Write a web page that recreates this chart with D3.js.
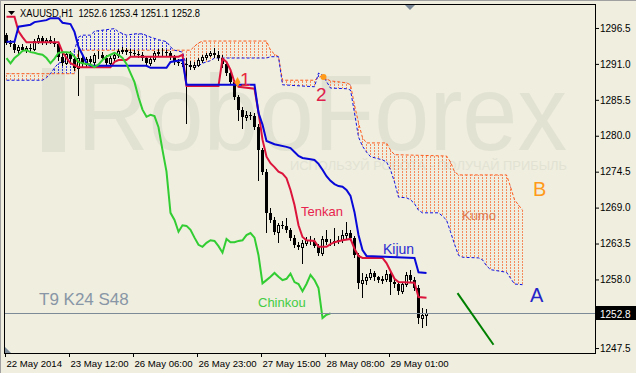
<!DOCTYPE html>
<meta charset="utf-8">
<style type="text/css">
body {
    margin: 0;
    background: #efeedf;
}

svg {
    display: block;
    font-family: 'Liberation Sans', Arial, sans-serif;
}
</style>

<body>
    <script src="https://d3js.org/d3.v7.min.js"></script>
    <script>
    // XAUUSD H1 with Ichimoku (9 / 24 / 48), one bar = 4px

    var opens = [1295.4, 1294.2, 1294.0, 1293.1, 1293.6, 1293.2, 1293.5, 1293.3, 1294.5, 1294.9,
        1294.3, 1294.7, 1294.4, 1294.0, 1292.0, 1291.2, 1292.5, 1291.8, 1290.4, 1291.9,
        1291.0, 1291.7, 1291.3, 1292.3, 1292.4, 1291.9, 1291.1, 1291.9, 1292.4, 1293.0,
        1293.1, 1292.8, 1292.7, 1292.5, 1292.4, 1291.9, 1291.1, 1291.8, 1292.7, 1292.8,
        1292.8, 1292.7, 1292.1, 1291.3, 1291.1, 1291.0, 1290.9, 1290.5, 1290.9, 1291.6,
        1292.1, 1292.4, 1292.7, 1292.4, 1291.9, 1291.0, 1289.6, 1288.2, 1285.9, 1284.0,
        1282.9, 1283.2, 1283.0, 1281.3, 1277.8, 1274.5, 1268.2, 1267.1, 1265.3, 1266.3,
        1266.2, 1265.6, 1264.4, 1263.3, 1263.0, 1263.6, 1264.0, 1263.9, 1263.1, 1262.1,
        1264.2, 1263.7, 1263.7, 1263.9, 1264.0, 1264.8, 1265.1, 1264.4, 1261.7, 1257.4,
        1257.9, 1258.4, 1259.0, 1258.4, 1257.9, 1258.1, 1258.9, 1257.6, 1257.3, 1256.2,
        1257.3, 1258.7, 1257.9, 1256.7, 1252.1, 1252.6]

    var highs = [1295.7, 1294.6, 1294.3, 1293.9, 1294.0, 1293.8, 1294.1, 1294.8, 1295.4, 1295.3,
        1295.0, 1295.2, 1294.9, 1294.3, 1292.6, 1292.8, 1293.0, 1292.3, 1293.1, 1292.4,
        1292.0, 1292.2, 1292.6, 1293.0, 1292.8, 1292.3, 1292.2, 1292.7, 1293.3, 1293.6,
        1293.5, 1293.3, 1293.2, 1292.9, 1292.8, 1292.2, 1292.1, 1293.0, 1293.3, 1293.4,
        1293.2, 1293.0, 1292.4, 1291.7, 1291.5, 1291.9, 1291.5, 1291.3, 1291.9, 1292.4,
        1292.7, 1293.0, 1293.4, 1292.9, 1292.3, 1291.4, 1290.0, 1288.5, 1286.3, 1284.4,
        1283.8, 1283.7, 1283.5, 1281.8, 1278.2, 1274.9, 1268.9, 1267.6, 1266.6, 1266.9,
        1267.4, 1265.9, 1264.8, 1263.7, 1264.0, 1264.5, 1264.6, 1264.3, 1263.5, 1264.6,
        1265.6, 1264.2, 1265.9, 1264.6, 1265.6, 1266.8, 1265.5, 1264.7, 1262.0, 1259.0,
        1258.8, 1259.6, 1259.3, 1258.6, 1258.6, 1259.5, 1259.2, 1258.2, 1257.7, 1257.6,
        1259.1, 1259.4, 1258.3, 1257.1, 1253.6, 1253.4]

    var lows = [1294.0, 1293.7, 1292.8, 1292.7, 1292.9, 1292.8, 1293.0, 1293.1, 1294.2, 1294.0,
        1294.0, 1294.2, 1293.7, 1291.6, 1290.9, 1291.0, 1291.5, 1290.0, 1286.2, 1290.6,
        1290.6, 1290.9, 1291.0, 1291.9, 1291.6, 1290.8, 1290.9, 1291.6, 1292.1, 1292.6,
        1292.5, 1292.3, 1292.2, 1292.0, 1291.6, 1290.8, 1290.9, 1291.5, 1292.4, 1292.3,
        1292.3, 1291.8, 1291.0, 1290.8, 1290.7, 1282.0, 1290.2, 1290.2, 1290.7, 1291.3,
        1291.8, 1292.2, 1292.1, 1291.6, 1290.6, 1289.3, 1287.9, 1285.6, 1282.4, 1281.2,
        1282.4, 1282.6, 1281.0, 1273.2, 1274.1, 1265.3, 1266.8, 1264.9, 1263.7, 1265.9,
        1265.3, 1264.1, 1263.0, 1262.7, 1260.5, 1263.3, 1263.5, 1262.9, 1261.8, 1261.8,
        1263.4, 1263.3, 1263.3, 1263.6, 1263.8, 1264.4, 1264.0, 1261.4, 1256.7, 1255.3,
        1257.3, 1258.1, 1257.9, 1257.6, 1257.4, 1257.8, 1255.8, 1256.9, 1255.7, 1255.9,
        1257.0, 1257.6, 1256.4, 1251.3, 1250.7, 1251.1]

    var closes = [1294.2, 1294.0, 1293.1, 1293.6, 1293.2, 1293.5, 1293.3, 1294.5, 1294.9, 1294.3,
        1294.7, 1294.4, 1294.0, 1292.0, 1291.2, 1292.5, 1291.8, 1290.4, 1291.9, 1291.0,
        1291.7, 1291.3, 1292.3, 1292.4, 1291.9, 1291.1, 1291.9, 1292.4, 1293.0, 1293.1,
        1292.8, 1292.7, 1292.5, 1292.4, 1291.9, 1291.1, 1291.8, 1292.7, 1292.8, 1292.8,
        1292.7, 1292.1, 1291.3, 1291.1, 1291.0, 1290.9, 1290.5, 1290.9, 1291.6, 1292.1,
        1292.4, 1292.7, 1292.4, 1291.9, 1291.0, 1289.6, 1288.2, 1285.9, 1284.0, 1282.9,
        1283.2, 1283.0, 1281.3, 1277.8, 1274.5, 1268.2, 1267.1, 1265.3, 1266.3, 1266.2,
        1265.6, 1264.4, 1263.3, 1263.0, 1263.6, 1264.0, 1263.9, 1263.1, 1262.1, 1264.2,
        1263.7, 1263.7, 1263.9, 1264.0, 1264.8, 1265.1, 1264.4, 1261.7, 1257.4, 1257.9,
        1258.4, 1259.0, 1258.4, 1257.9, 1258.1, 1258.9, 1257.6, 1257.3, 1256.2, 1257.3,
        1258.7, 1257.9, 1256.7, 1252.1, 1252.6, 1252.8]

    // [bar, price] break points
    var tenkan = [[0, 1298.2], [2, 1298.2], [3, 1296.0], [4, 1295.1], [5, 1294.3], [13, 1294.3],
        [14, 1292.8], [15, 1291.9], [16, 1291.1], [18, 1290.5], [26, 1290.5], [27, 1291.3],
        [28, 1291.6], [30, 1291.6], [31, 1292.1], [43, 1292.1], [44, 1292.4], [45, 1287.6],
        [53, 1287.6], [54, 1291.8], [55, 1291.3], [56, 1290.1], [57, 1288.2], [58, 1287.5],
        [62, 1287.2], [63, 1283.6], [64, 1279.4], [65, 1276.8], [66, 1275.8], [67, 1275.2],
        [68, 1274.5], [69, 1274.2], [70, 1273.5], [71, 1271.7], [72, 1269.4], [73, 1266.3],
        [74, 1264.5], [75, 1264.0], [77, 1263.9], [78, 1263.0], [80, 1263.0], [81, 1263.4],
        [82, 1263.7], [84, 1264.0], [86, 1264.2], [87, 1262.7], [88, 1261.6], [89, 1261.3],
        [94, 1261.3], [95, 1260.5], [96, 1259.3], [97, 1258.1], [98, 1257.6], [102, 1257.5],
        [103, 1255.3], [105, 1255.2]]

    var kijun = [[0, 1294.4], [2, 1294.4], [3, 1296.7], [6, 1297.0], [7, 1297.4], [10, 1297.7],
        [11, 1298.0], [13, 1298.0], [14, 1297.3], [16, 1297.1], [17, 1295.9], [18, 1293.6],
        [19, 1292.4], [20, 1291.1], [21, 1290.7], [35, 1290.7], [36, 1290.4], [40, 1290.4],
        [41, 1291.3], [44, 1291.6], [45, 1287.8], [62, 1287.8], [63, 1283.5], [64, 1281.7],
        [65, 1279.2], [67, 1278.7], [70, 1278.3], [71, 1278.1], [72, 1277.5], [73, 1276.9],
        [74, 1276.6], [76, 1276.4], [77, 1276.3], [78, 1275.7], [79, 1274.8], [80, 1273.8],
        [81, 1273.1], [82, 1272.6], [83, 1272.3], [84, 1272.2], [85, 1271.7], [86, 1270.8],
        [87, 1268.3], [88, 1264.8], [89, 1262.5], [90, 1261.6], [102, 1261.3], [103, 1259.1],
        [105, 1259.0]]

    var spanA = [[0, 1288.5], [9, 1288.5], [10, 1288.9], [11, 1289.5], [12, 1290.4], [13, 1291.1],
        [14, 1291.3], [15, 1291.5], [16, 1291.9], [17, 1293.1], [18, 1295.1], [19, 1295.4],
        [21, 1295.4], [22, 1296.0], [27, 1296.4], [28, 1295.9], [30, 1295.4], [32, 1295.6],
        [34, 1295.6], [36, 1295.1], [38, 1294.7], [40, 1294.4], [41, 1293.6], [42, 1293.1],
        [44, 1292.8], [45, 1290.7], [48, 1290.7], [49, 1291.1], [51, 1291.5], [52, 1291.9],
        [65, 1291.9], [66, 1292.1], [68, 1292.1], [69, 1287.8], [77, 1287.5], [78, 1289.6],
        [79, 1289.3], [81, 1287.3], [85, 1287.2], [86, 1287.0], [87, 1283.5], [88, 1279.8],
        [89, 1278.4], [90, 1277.5], [91, 1276.8], [94, 1276.3], [95, 1276.0], [96, 1274.8],
        [97, 1272.9], [98, 1270.6], [100, 1270.5], [101, 1270.2], [102, 1269.6], [103, 1268.6],
        [104, 1268.2], [108, 1268.2], [109, 1267.7], [110, 1267.1], [111, 1265.3], [112, 1263.4],
        [113, 1261.7], [114, 1261.4], [118, 1261.3], [119, 1261.0], [120, 1260.1], [121, 1259.5],
        [125, 1259.1], [126, 1258.2], [127, 1257.3], [129, 1257.2]]

    var spanB = [[0, 1289.5], [17, 1289.5], [18, 1293.1], [46, 1293.1], [47, 1293.7], [48, 1294.2],
        [49, 1294.5], [65, 1294.5], [66, 1293.1], [67, 1292.5], [68, 1292.1], [69, 1288.5],
        [77, 1288.5], [78, 1288.9], [79, 1289.2], [80, 1288.7], [81, 1288.4], [85, 1288.1],
        [86, 1287.8], [87, 1284.7], [88, 1282.0], [89, 1279.7], [90, 1278.9], [95, 1278.9],
        [96, 1277.8], [97, 1277.1], [110, 1276.9], [111, 1276.0], [112, 1274.5], [113, 1274.0],
        [125, 1274.0], [126, 1272.2], [127, 1270.2], [128, 1269.4], [129, 1268.6]]

    var chinkouShift = 24
    var trendline = [[112.75, 1255.9], [121.75, 1248.0]]
    var signal1 = [57.75, 1288.2]
    var signal2 = [79.25, 1289.0]

    var timeTicks = [0, 16, 32, 48, 64, 80, 96]
    var timeLabels = ['22 May 2014', '23 May 12:00', '26 May 06:00', '26 May 23:00',
        '27 May 15:00', '28 May 08:00', '29 May 01:00']
    var priceTicks = [1296.5, 1291.0, 1285.5, 1280.0, 1274.5, 1269.0, 1263.5, 1258.0, 1247.5]
    var lastPrice = 1252.8
    var header = 'XAUUSD,H1  1252.6 1253.4 1251.1 1252.8'

    var width = 636
    var height = 373
    var plotLeft = 4, plotRight = 595, plotTop = 4, plotBottom = 353
    var bg = '#efeedf'
    var axisFont = "'Liberation Sans', Arial, sans-serif"

    var x = d3.scaleLinear().domain([0, 1]).range([6, 10])
    var y = d3.scaleLinear().domain([1246.74, 1300.17]).range([plotBottom, plotTop])

    var svg = d3.select('body').append('svg')
        .attr('width', width)
        .attr('height', height)

    svg.append('rect').attr('width', width).attr('height', height).attr('fill', bg)

    var defs = svg.append('defs')
    defs.append('clipPath').attr('id', 'plot')
        .append('rect').attr('x', plotLeft + 1).attr('y', plotTop + 1)
        .attr('width', plotRight - plotLeft - 1).attr('height', plotBottom - plotTop - 1)

    // dotted vertical hatch, one line per bar
    function hatch(id, color) {
        var p = defs.append('pattern').attr('id', id)
            .attr('patternUnits', 'userSpaceOnUse')
            .attr('width', 4).attr('height', 3)
        p.append('rect').attr('x', 2).attr('y', 0).attr('width', 1).attr('height', 2)
            .attr('fill', color)
    }
    hatch('hatchA', '#3636e2')
    hatch('hatchB', '#f58a5c')

    var plot = svg.append('g').attr('clip-path', 'url(#plot)')

    // watermark
    var wm = '#e2e2d3'
    plot.append('rect').attr('x', 42).attr('y', 68).attr('width', 23).attr('height', 84).attr('fill', wm)
    plot.append('text').attr('x', 77).attr('y', 150)
        .attr('font-size', 108).attr('fill', wm)
        .attr('textLength', 490).attr('lengthAdjust', 'spacingAndGlyphs')
        .text('RoboForex')
    plot.append('text').attr('x', 290).attr('y', 170)
        .attr('font-size', 13).attr('fill', wm)
        .attr('textLength', 277).attr('lengthAdjust', 'spacingAndGlyphs')
        .text('ИСПОЛЬЗУЙ РОБОТА - ПОЛУЧАЙ ПРИБЫЛЬ')

    // kumo
    function pts(arr) {
        return arr.map(d => [x(d[0]) + 0.5, y(d[1])])
    }
    var aPts = pts(spanA)
    var bPts = pts(spanB)
    aPts[0][0] -= 1; bPts[0][0] -= 1
    aPts[aPts.length - 1][0] += 1; bPts[bPts.length - 1][0] += 1
    var between = 'M' + aPts.concat(bPts.slice().reverse()).join('L') + 'Z'

    function above(p, id) {
        var path = 'M' + p.concat([[p[p.length - 1][0], 0], [p[0][0], 0]]).join('L') + 'Z'
        defs.append('clipPath').attr('id', id).append('path').attr('d', path)
    }
    above(aPts, 'aboveA')
    above(bPts, 'aboveB')

    plot.append('path').attr('d', between).attr('fill', 'url(#hatchB)').attr('clip-path', 'url(#aboveA)')
    plot.append('path').attr('d', between).attr('fill', 'url(#hatchA)').attr('clip-path', 'url(#aboveB)')

    var line = d3.line().x(d => x(d[0]) + 0.5).y(d => y(d[1]))

    plot.append('path').datum(spanB).attr('d', line)
        .attr('fill', 'none').attr('stroke', '#ff5a1a').attr('stroke-dasharray', '3,2')
    plot.append('path').datum(spanA).attr('d', line)
        .attr('fill', 'none').attr('stroke', '#1010e0').attr('stroke-dasharray', '3,2')

    // candles
    var bars = d3.range(closes.length)
    var candles = plot.append('g')

    candles.selectAll('.wick')
        .data(bars)
        .enter()
        .append('line')
        .attr('class', 'wick')
        .attr('x1', i => x(i) + 0.5).attr('x2', i => x(i) + 0.5)
        .attr('y1', i => Math.round(y(highs[i])))
        .attr('y2', i => Math.round(y(lows[i])) + 1)
        .attr('stroke', '#000')

    candles.selectAll('.bear')
        .data(bars.filter(i => closes[i] < opens[i]))
        .enter()
        .append('rect')
        .attr('class', 'bear')
        .attr('x', i => x(i) - 1)
        .attr('y', i => Math.round(y(opens[i])))
        .attr('width', 3)
        .attr('height', i => Math.max(1, Math.round(y(closes[i])) - Math.round(y(opens[i]))))
        .attr('fill', '#000')

    candles.selectAll('.bull')
        .data(bars.filter(i => closes[i] >= opens[i]))
        .enter()
        .append('rect')
        .attr('class', 'bull')
        .attr('x', i => x(i) - 0.5)
        .attr('y', i => Math.round(y(closes[i])) + 0.5)
        .attr('width', 2)
        .attr('height', i => Math.round(y(opens[i])) - Math.round(y(closes[i])))
        .attr('fill', bg)
        .attr('stroke', '#000')

    // indicator lines
    plot.append('path').datum(tenkan).attr('d', line)
        .attr('fill', 'none').attr('stroke', '#dc143c').attr('stroke-width', 2)
    plot.append('path').datum(kijun).attr('d', line)
        .attr('fill', 'none').attr('stroke', '#0808d8').attr('stroke-width', 2)

    var chinkou = closes.slice(chinkouShift).map((c, k) => [k, c])
    plot.append('path').datum(chinkou).attr('d', line)
        .attr('fill', 'none').attr('stroke', '#32cd32').attr('stroke-width', 2)

    // bid line
    var bidY = Math.round(y(lastPrice)) + 0.5
    plot.append('line')
        .attr('x1', plotLeft).attr('x2', plotRight).attr('y1', bidY).attr('y2', bidY)
        .attr('stroke', '#7c8a98')

    // trend line and signals
    plot.append('path').datum(trendline).attr('d', line)
        .attr('fill', 'none').attr('stroke', '#008000').attr('stroke-width', 2)

    plot.append('path')
        .attr('d', d3.symbol(d3.symbolDiamond, 30)())
        .attr('transform', 'translate(' + (x(signal1[0]) + 0.5) + ',' + y(signal1[1]) + ')')
        .attr('fill', '#ff9a1a')
    plot.append('circle')
        .attr('cx', x(signal2[0]) + 0.5).attr('cy', y(signal2[1])).attr('r', 3)
        .attr('fill', '#ff9a1a')

    // labels
    function label(tx, ty, size, color, text) {
        plot.append('text').attr('x', tx).attr('y', ty)
            .attr('font-size', size).attr('fill', color).text(text)
    }
    label(240, 86, 19, '#e8283c', '1')
    label(316, 101, 19, '#e0204a', '2')
    label(301, 216, 13, '#e8244e', 'Tenkan')
    label(383, 254, 14, '#2a2ad0', 'Kijun')
    label(258, 307, 13, '#44cc44', 'Chinkou')
    label(462, 220, 13, '#e07a50', 'Kumo')
    label(533, 196, 20, '#ff9a1a', 'B')
    label(530, 302, 20, '#2424c8', 'A')
    label(39, 305, 17, '#8896a6', 'T9 K24 S48')

    // frame
    svg.append('rect')
        .attr('x', plotLeft + 0.5).attr('y', plotTop + 0.5)
        .attr('width', plotRight - plotLeft).attr('height', plotBottom - plotTop)
        .attr('fill', 'none').attr('stroke', '#000')
    svg.append('line').attr('x1', 0).attr('x2', width).attr('y1', 0.5).attr('y2', 0.5).attr('stroke', '#a0a0a0')
    svg.append('line').attr('x1', 0.5).attr('x2', 0.5).attr('y1', 0).attr('y2', height).attr('stroke', '#a0a0a0')

    svg.append('path').attr('d', 'M405,5L415,5L410,10Z').attr('fill', '#7a8898')
    svg.append('path').attr('d', 'M5,347L5,353L11,353Z').attr('fill', '#7a8898')

    // header
    svg.append('path').attr('d', 'M8,11L15,11L11.5,15Z').attr('fill', '#000')
    svg.append('text').attr('x', 20).attr('y', 17)
        .attr('font-size', 10).attr('fill', '#000')
        .style('white-space', 'pre')
        .attr('textLength', 180).attr('lengthAdjust', 'spacingAndGlyphs')
        .text(header)

    // axes
    var yAxis = d3.axisRight(y)
        .tickValues(priceTicks)
        .tickSize(4)
        .tickPadding(1)
        .tickFormat(d3.format('.1f'))
    svg.append('g')
        .attr('transform', 'translate(' + plotRight + ',0)')
        .call(yAxis)
        .call(g => g.select('.domain').remove())
        .call(g => g.selectAll('text').attr('font-size', 10).attr('font-family', axisFont))

    var xAxis = d3.axisBottom(x)
        .tickValues(timeTicks)
        .tickSize(4)
        .tickFormat((d, k) => timeLabels[k])
    svg.append('g')
        .attr('transform', 'translate(-1,' + plotBottom + ')')
        .call(xAxis)
        .call(g => g.select('.domain').remove())
        .call(g => g.selectAll('text').attr('text-anchor', 'start').attr('x', 1)
            .attr('font-size', 9.6).attr('font-family', axisFont))

    // last price tag
    svg.append('rect').attr('x', plotRight + 1).attr('y', bidY - 7.5).attr('width', 40).attr('height', 14).attr('fill', '#000')
    svg.append('text').attr('x', 600).attr('y', bidY + 4).attr('font-size', 10).attr('fill', '#fff')
        .attr('font-family', axisFont)
        .text(d3.format('.1f')(lastPrice))
    </script>
</body>
